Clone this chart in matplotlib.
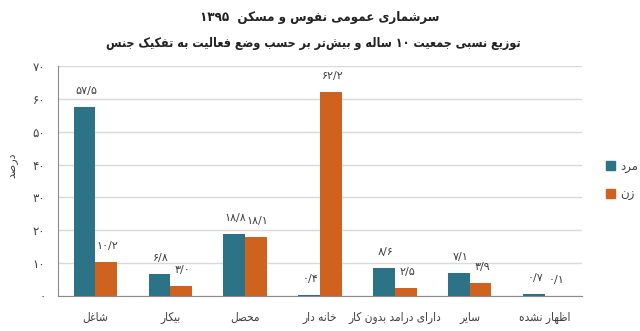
import re

import matplotlib
matplotlib.use("Agg")
import matplotlib.pyplot as plt
import numpy as np
from matplotlib.patches import Patch

categories = ["شاغل", "بیکار", "محصل", "خانه دار", "دارای درامد بدون کار", "سایر", "اظهار نشده"]
men = [57.5, 6.8, 18.8, 0.4, 8.6, 7.1, 0.7]
women = [10.2, 3.0, 18.1, 62.2, 2.5, 3.9, 0.1]
series_names = ["مرد", "زن"]
title = "سرشماری عمومی نفوس و مسکن  ۱۳۹۵"
subtitle = "توزیع نسبی جمعیت ۱۰ ساله و بیش\u200cتر بر حسب وضع فعالیت به تفکیک جنس"
ylabel = "درصد"
yticks = [0, 10, 20, 30, 40, 50, 60, 70]

TEAL = "#2d7387"
ORANGE = "#d0621f"
TEXT = "#404040"

# matplotlib 3.10 has no Arabic shaping, so pick presentation forms by hand
# (isolated, final, initial, medial); None = letter doesn't join to the next one
FORMS = {
    "ا": ("\uFE8D", "\uFE8E", None, None),
    "آ": ("\uFE81", "\uFE82", None, None),
    "ب": ("\uFE8F", "\uFE90", "\uFE91", "\uFE92"),
    "پ": ("\uFB56", "\uFB57", "\uFB58", "\uFB59"),
    "ت": ("\uFE95", "\uFE96", "\uFE97", "\uFE98"),
    "ث": ("\uFE99", "\uFE9A", "\uFE9B", "\uFE9C"),
    "ج": ("\uFE9D", "\uFE9E", "\uFE9F", "\uFEA0"),
    "چ": ("\uFB7A", "\uFB7B", "\uFB7C", "\uFB7D"),
    "ح": ("\uFEA1", "\uFEA2", "\uFEA3", "\uFEA4"),
    "خ": ("\uFEA5", "\uFEA6", "\uFEA7", "\uFEA8"),
    "د": ("\uFEA9", "\uFEAA", None, None),
    "ذ": ("\uFEAB", "\uFEAC", None, None),
    "ر": ("\uFEAD", "\uFEAE", None, None),
    "ز": ("\uFEAF", "\uFEB0", None, None),
    "ژ": ("\uFB8A", "\uFB8B", None, None),
    "س": ("\uFEB1", "\uFEB2", "\uFEB3", "\uFEB4"),
    "ش": ("\uFEB5", "\uFEB6", "\uFEB7", "\uFEB8"),
    "ص": ("\uFEB9", "\uFEBA", "\uFEBB", "\uFEBC"),
    "ض": ("\uFEBD", "\uFEBE", "\uFEBF", "\uFEC0"),
    "ط": ("\uFEC1", "\uFEC2", "\uFEC3", "\uFEC4"),
    "ظ": ("\uFEC5", "\uFEC6", "\uFEC7", "\uFEC8"),
    "ع": ("\uFEC9", "\uFECA", "\uFECB", "\uFECC"),
    "غ": ("\uFECD", "\uFECE", "\uFECF", "\uFED0"),
    "ف": ("\uFED1", "\uFED2", "\uFED3", "\uFED4"),
    "ق": ("\uFED5", "\uFED6", "\uFED7", "\uFED8"),
    "ک": ("\uFB8E", "\uFB8F", "\uFB90", "\uFB91"),
    "گ": ("\uFB92", "\uFB93", "\uFB94", "\uFB95"),
    "ل": ("\uFEDD", "\uFEDE", "\uFEDF", "\uFEE0"),
    "م": ("\uFEE1", "\uFEE2", "\uFEE3", "\uFEE4"),
    "ن": ("\uFEE5", "\uFEE6", "\uFEE7", "\uFEE8"),
    "و": ("\uFEED", "\uFEEE", None, None),
    "ه": ("\uFEE9", "\uFEEA", "\uFEEB", "\uFEEC"),
    "ی": ("\uFBFC", "\uFBFD", "\uFBFE", "\uFBFF"),
}


def shape(text):
    out = []
    for i, c in enumerate(text):
        if c not in FORMS:
            out.append(c)
            continue
        prev = text[i - 1] if i > 0 else None
        nxt = text[i + 1] if i + 1 < len(text) else None
        iso, fin, ini, med = FORMS[c]
        join_prev = prev in FORMS and FORMS[prev][2] is not None
        join_next = nxt in FORMS and ini is not None
        if join_prev and join_next:
            out.append(med)
        elif join_prev:
            out.append(fin)
        elif join_next:
            out.append(ini)
        else:
            out.append(iso)
    s = "".join(out).replace("\u200c", "")
    # visual order: right-to-left, but digit runs stay left-to-right
    runs = re.findall(r"[\u06F0-\u06F9/]+|[^\u06F0-\u06F9/]+", s)
    return "".join(r if re.match(r"[\u06F0-\u06F9]", r) else r[::-1] for r in reversed(runs))


def fa_num(value, fmt="{:.1f}"):
    s = fmt.format(value).replace(".", "/")
    return "".join(chr(0x06F0 + int(ch)) if ch.isdigit() else ch for ch in s)


fig = plt.figure(figsize=(6.4, 3.31), dpi=100)
ax = fig.add_axes([0.0906, 0.106, 0.8188, 0.694])

x = np.arange(len(categories))
width = 0.29
bars_m = ax.bar(x - width / 2, men, width, color=TEAL, zorder=3)
bars_w = ax.bar(x + width / 2, women, width, color=ORANGE, zorder=3)

for bars, vals in ((bars_m, men), (bars_w, women)):
    for b, v in zip(bars, vals):
        ax.annotate(fa_num(v), (b.get_x() + b.get_width() / 2, v), xytext=(1, 11.5),
                    textcoords="offset points", ha="center", va="center",
                    fontsize=8, color=TEXT)

ax.set_xlim(-0.5, len(categories) - 0.5)
ax.set_ylim(0, 70)
ax.set_yticks(yticks)
ax.set_yticklabels([fa_num(t, "{:d}") for t in yticks])
ax.set_xticks(x)
ax.set_xticklabels([shape(c) for c in categories], fontstretch="condensed")
ax.tick_params(axis="both", length=0, colors=TEXT, labelsize=8.5)
ax.tick_params(axis="x", pad=11)
ax.tick_params(axis="y", pad=9)
ax.grid(axis="y", color="#d9d9d9", linewidth=1, zorder=0)

for side in ("top", "right"):
    ax.spines[side].set_visible(False)
ax.spines["left"].set_color("#8c8c8c")
ax.spines["bottom"].set_color("#8c8c8c")

fig.text(0.02, 0.50, shape(ylabel), rotation=90, ha="center", va="center",
         fontsize=8, color=TEXT)

fig.text(0.5, 0.948, shape(title), ha="center", va="center", fontstretch="condensed",
         fontsize=9.5, fontweight="bold", color="#222222")
fig.text(0.49, 0.868, shape(subtitle), ha="center", va="center", fontstretch="condensed",
         fontsize=9, fontweight="bold", color="#222222")

handles = [Patch(color=TEAL), Patch(color=ORANGE)]
fig.legend(handles, [shape(n) for n in series_names], loc="center left",
           bbox_to_anchor=(0.93, 0.455), frameon=False, fontsize=8.5,
           handlelength=0.8, handleheight=0.8, handletextpad=0.4,
           labelspacing=1.3, labelcolor=TEXT)

fig.savefig("out.png", dpi=100)
